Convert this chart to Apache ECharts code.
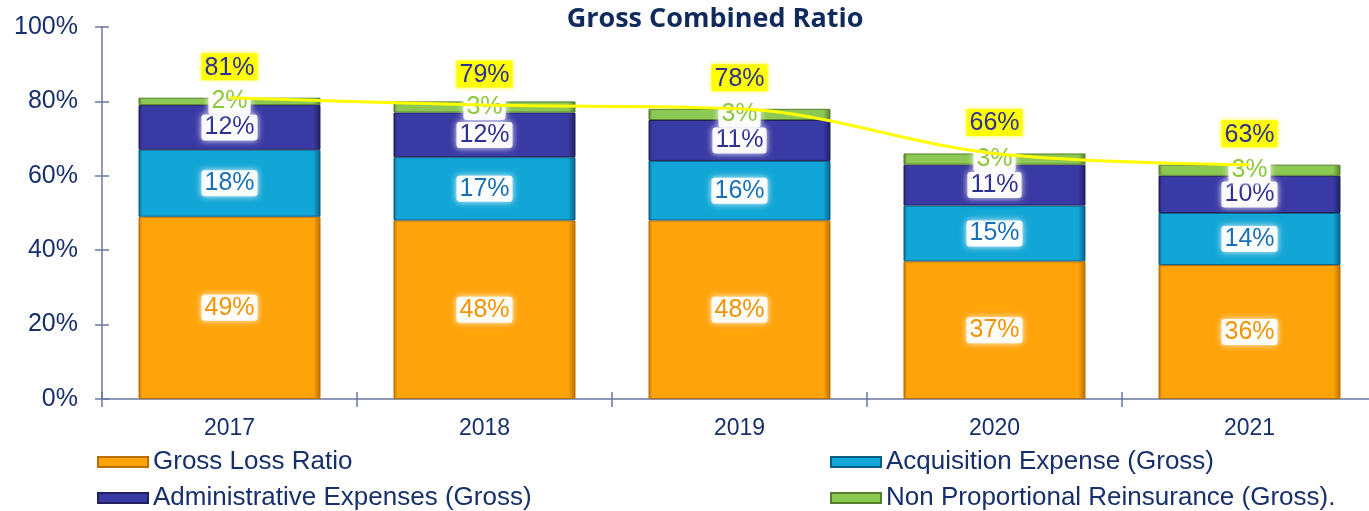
<!DOCTYPE html>
<html><head><meta charset="utf-8">
<style>html,body{margin:0;padding:0;background:#fff}#c{width:1369px;height:511px}</style>
<script src="https://cdn.jsdelivr.net/npm/echarts@6/dist/echarts.min.js"></script>
</head><body><div id="c"></div>
<script>
const categories = ['2017','2018','2019','2020','2021'];
const grossLoss = [49,48,48,37,36];
const acquisition = [18,17,16,15,14];
const admin = [12,12,11,11,10];
const npr = [2,3,3,3,3];
const totals = [81,79,78,66,63];

const font = 'Liberation Sans, Arial, sans-serif';
const navy = '#17306b';
function grad(base, dark){
  return {type:'linear',x:0,y:0,x2:1,y2:0,colorStops:[
    {offset:0,color:dark},{offset:0.02,color:base},{offset:0.96,color:base},{offset:1,color:dark}]};
}
function barSeries(name, data, base, dark, labelColor){
  return {
    name, type:'bar', stack:'t', data, barWidth:182,
    itemStyle:{color:grad(base,dark), borderColor:dark, borderWidth:1},
    label:{show:true, position:'inside', formatter:'{c}%', color:labelColor,
      fontFamily:font, fontSize:25, backgroundColor:'rgba(255,255,255,0.92)',
      padding:[1,3,0,3], borderRadius:3, shadowColor:'#fff', shadowBlur:6},
    emphasis:{disabled:true}
  };
}
function legendItem(name, left, top){
  return {left, top, itemWidth:50, itemHeight:10, icon:'rect', data:[name],
    selectedMode:false, padding:0,
    textStyle:{fontFamily:font, fontSize:26, color:navy, padding:[0,0,0,0], lineHeight:28}};
}
const axisColor = '#6a78a0';
const chart = echarts.init(document.getElementById('c'));
chart.setOption({
  animation:false,
  title:{text:'Gross Combined Ratio', left:710, textAlign:'center', top:1,
    textStyle:{fontFamily:'Open Sans, sans-serif', fontWeight:700, fontSize:27, color:'#102a5c'}},
  grid:{left:102, width:1275, top:27, bottom:112, containLabel:false, outerBoundsMode:'none'},
  legend:[
    legendItem('Gross Loss Ratio', 97, 448),
    legendItem('Administrative Expenses (Gross)', 97, 484),
    legendItem('Acquisition Expense (Gross)', 830, 448),
    legendItem('Non Proportional Reinsurance (Gross).', 830, 484)
  ],
  xAxis:[
    {type:'category', data:categories,
     axisLine:{lineStyle:{color:axisColor, width:1.5}},
     axisTick:{show:true, length:8, lineStyle:{color:axisColor, width:1.5}},
     axisLabel:{fontFamily:font, fontSize:23, color:navy, margin:18}},
    {type:'category', data:categories, position:'bottom', gridIndex:0,
     axisLine:{show:false}, axisLabel:{show:false},
     axisTick:{show:true, inside:true, length:7, lineStyle:{color:axisColor, width:1.5}}}
  ],
  yAxis:[
    {type:'value', min:0, max:100, interval:20, splitLine:{show:false},
     axisLine:{show:true, lineStyle:{color:axisColor, width:1.5}},
     axisTick:{show:true, length:7, lineStyle:{color:axisColor, width:1.5}},
     axisLabel:{formatter:v=>v+'%', fontFamily:font, fontSize:25, color:navy, margin:24}},
    {type:'value', min:0, max:100, interval:20, position:'left', splitLine:{show:false},
     axisLine:{show:false}, axisLabel:{show:false},
     axisTick:{show:true, inside:true, length:7, lineStyle:{color:axisColor, width:1.5}}}
  ],
  series:[
    barSeries('Gross Loss Ratio', grossLoss, '#ffa30a', '#b86f00', '#f39200'),
    barSeries('Acquisition Expense (Gross)', acquisition, '#12a6d6', '#0a5f85', '#1a70b8'),
    barSeries('Administrative Expenses (Gross)', admin, '#3a3aa4', '#20205e', '#2e3192'),
    barSeries('Non Proportional Reinsurance (Gross).', npr, '#8dc854', '#557e2c', '#8dc63f'),
    {name:'Total', type:'line', data:totals, smooth:0.35, symbol:'circle', symbolSize:1,
     showSymbol:true, itemStyle:{color:'rgba(0,0,0,0)'},
     lineStyle:{color:'#ffff00', width:3},
     label:{show:true, position:'top', distance:17, formatter:'{c}%', color:'#2e3192',
       fontFamily:font, fontSize:25, backgroundColor:'#ffff00', padding:[2,3,0,3],
       shadowColor:'#ffff40', shadowBlur:4},
     emphasis:{disabled:true}}
  ]
});
</script></body></html>
